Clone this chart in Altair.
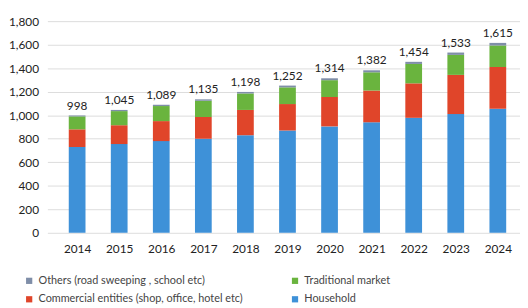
import altair as alt
import pandas as pd

years = [2014, 2015, 2016, 2017, 2018, 2019, 2020, 2021, 2022, 2023, 2024]
totals = [998, 1045, 1089, 1135, 1198, 1252, 1314, 1382, 1454, 1533, 1615]
household = [730, 755, 780, 800, 830, 870, 905, 940, 978, 1010, 1055]
commercial = [150, 160, 170, 185, 215, 225, 250, 270, 293, 333, 355]
market = [110, 120, 128, 138, 140, 142, 143, 155, 165, 170, 183]
others = [8, 10, 11, 12, 13, 15, 16, 17, 18, 20, 22]
y_ticks = [0, 200, 400, 600, 800, 1000, 1200, 1400, 1600, 1800]

name_others = "Others (road sweeping , school etc)"
name_market = "Traditional market"
name_comm = "Commercial entities (shop, office, hotel etc)"
name_house = "Household"

legend_order = [name_others, name_comm, name_market, name_house]
legend_colors = ["#7f8ea8", "#e0452a", "#6ab43e", "#3e91d8"]

rows = []
series = [(name_house, household, 0), (name_comm, commercial, 1),
          (name_market, market, 2), (name_others, others, 3)]
for name, vals, order in series:
    for y, v in zip(years, vals):
        rows.append({"year": y, "category": name, "value": v, "order": order})
df = pd.DataFrame(rows)
tot_df = pd.DataFrame({"year": years, "total": totals})

font = "Lato"
xscale = alt.Scale(domain=[2013.41, 2024.41], nice=False, zero=False)
yscale = alt.Scale(domain=[0, 1800], nice=False)

xaxis = alt.Axis(values=years, format="d", title=None, grid=False,
                 domain=False, ticks=False, labelPadding=11,
                 labelFontSize=12, labelColor="#222", labelFont=font,
                 labelOverlap=False)
yaxis = alt.Axis(values=y_ticks, format=",d", title=None,
                 domain=False, ticks=False, labelPadding=9,
                 labelFontSize=12, labelColor="#222", labelFont=font,
                 labelOverlap=False, tickCount=10,
                 gridColor="#dcdcdc", gridWidth=1)

bars = alt.Chart(df).mark_bar(size=17).encode(
    x=alt.X("year:Q", scale=xscale, axis=xaxis),
    y=alt.Y("value:Q", stack="zero", scale=yscale, axis=yaxis),
    color=alt.Color("category:N",
                    scale=alt.Scale(domain=legend_order, range=legend_colors),
                    legend=alt.Legend(title=None, orient="none", legendX=-24, legendY=258,
                                      columns=2, columnPadding=47, rowPadding=7,
                                      symbolType="square", symbolSize=40,
                                      symbolStrokeWidth=0,
                                      labelFontSize=11, labelColor="#444",
                                      labelFont=font, labelLimit=300)),
    order=alt.Order("order:Q", sort="ascending"),
)

labels = alt.Chart(tot_df).mark_text(baseline="bottom", dy=-3, fontSize=12,
                                     color="#222", font=font).encode(
    x=alt.X("year:Q", scale=xscale, axis=xaxis),
    y=alt.Y("total:Q", scale=yscale, axis=yaxis),
    text=alt.Text("total:Q", format=",d"),
)

chart = alt.layer(bars, labels).properties(
    width=480, height=215,
    autosize=alt.AutoSizeParams(type="none"),
    padding={"left": 40, "top": 11, "right": 0, "bottom": 74},
).configure_view(stroke=None)

chart.save("out.html", embed_options={"renderer": "svg", "actions": False})
